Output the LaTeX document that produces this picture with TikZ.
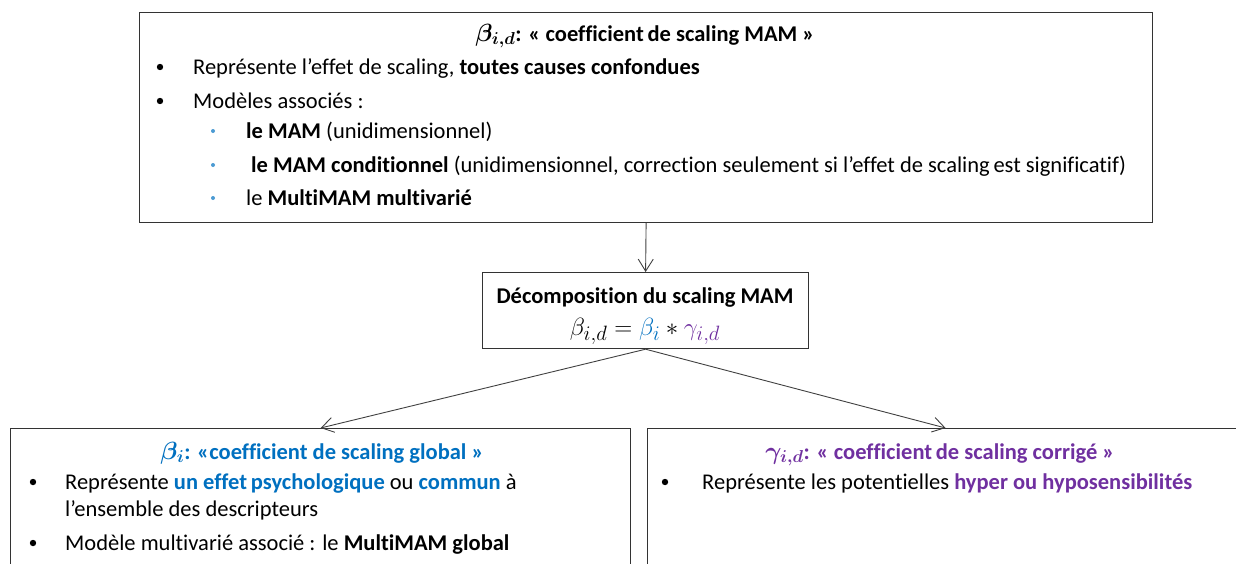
\documentclass[tikz,border=0pt]{standalone}
\usepackage{fontspec}
\setmainfont{Carlito}[Ligatures=NoCommon]
\usepackage{amsmath}
\usepackage{bm}
\usetikzlibrary{positioning,arrows.meta}
\definecolor{mamblue}{HTML}{0070C0}
\definecolor{mampurple}{HTML}{7030A0}
\tikzset{>={Straight Barb[length=12pt,width=15pt]}}
\newcommand{\titlemath}[1]{{\fontsize{26}{30}\selectfont$\bm{#1}$}}

\begin{document}
\begin{tikzpicture}[x=1pt,y=-1pt,font=\fontsize{22.5}{27}\selectfont]

        % Setup the styles for the boxes and the texts
        \tikzset{panel/.style={rectangle,
                               draw=black!80,
                               line width=1.2pt,
                               fill=white,
                               anchor=north west,
                               inner sep=0pt},
                 line text/.style={anchor=base west, inner sep=0pt},
                 title text/.style={anchor=base, inner sep=0pt},
                 big dot/.style={fill=black},
                 small dot/.style={fill=mamblue!70}}

        \useasboundingbox (0,0) rectangle (1236,563);

        % Draw the boxes
        \node[panel, minimum width=1013pt, minimum height=210pt] at (139,12)  (mam)     {};
        \node[panel, minimum width=326pt,  minimum height=76pt]  at (482,272) (decomp)  {};
        \node[panel, minimum width=620pt,  minimum height=180pt] at (10,428)  (global)  {};
        \node[panel, minimum width=596pt,  minimum height=180pt] at (647,428) (corrige) {};

        % Connect the boxes with arrows
        \draw[->, line width=0.9pt, draw=black!75]
            (mam.south) -- (decomp.north);
        \draw[->, line width=0.9pt, draw=black!75]
            (decomp.south) -- (global.north);
        \draw[->, line width=0.9pt, draw=black!75]
            (decomp.south) -- (corrige.north);

        % Top box
        \node[title text] at (645,41) (mamtitle)
            {\titlemath{\beta_{i,d}}\textbf{: « coefficient\,de scaling MAM »}};
        \fill[big dot] (160,67) circle (3.2);
        \fill[big dot] (160,101) circle (3.2);
        \node[line text] at (193,74) (mamline1)
            {Représente l’effet de scaling, \textbf{toutes causes confondues}};
        \node[line text] at (193,108) (mamline2) {Modèles associés :};
        \foreach \y in {131,165,198}
            \fill[small dot] (213,\y) circle (2);
        \node[line text] at (246,138) (mamsub1) {\textbf{le MAM} (unidimensionnel)};
        \node[line text] at (251,172) (mamsub2)
            {\textbf{le MAM conditionnel} (unidimensionnel, correction seulement si l’effet de scaling\,est significatif)};
        \node[line text] at (246,205) (mamsub3) {le \textbf{MultiMAM multivarié}};

        % Middle box
        \node[title text] at (645,303) (decomptitle) {\textbf{Décomposition du scaling MAM}};
        \node[title text, font=\fontsize{29}{33}\selectfont] at (645,335) (decompeq)
            {$\beta_{i,d} = \textcolor{mamblue}{\beta_i} * \textcolor{mampurple}{\gamma_{i,d}}$};

        % Bottom left box
        \node[title text, text=mamblue] at (322,459) (globaltitle)
            {\titlemath{\beta_{i}}\textbf{: «coefficient de scaling global »}};
        \fill[big dot] (33,482) circle (3.2);
        \fill[big dot] (33,543) circle (3.2);
        \node[line text] at (65,489) (globalline1)
            {Représente \textcolor{mamblue}{\textbf{un effet\,psychologique}} ou \textcolor{mamblue}{\textbf{commun}} à};
        \node[line text] at (65,516) (globalline2) {l’ensemble des descripteurs};
        \node[line text] at (65,550) (globalline3)
            {Modèle multivarié associé : le \textbf{MultiMAM global}};

        % Bottom right box
        \node[title text, text=mampurple] at (940,459) (corrigetitle)
            {\titlemath{\gamma_{i,d}}\textbf{: « coefficient\,de scaling corrigé »}};
        \fill[big dot] (665,482) circle (3.2);
        \node[line text] at (702,489) (corrigeline1)
            {Représente les potentielles \textcolor{mampurple}{\textbf{hyper ou hyposensibilités}}};
    \end{tikzpicture}
\end{document}
